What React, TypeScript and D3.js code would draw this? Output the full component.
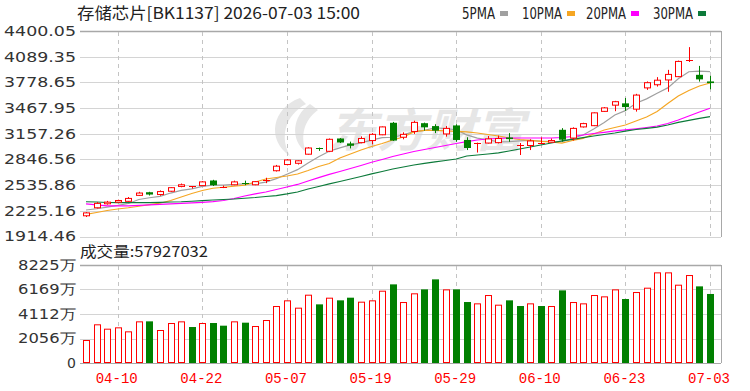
import React from 'react';
import * as d3 from 'd3';

// 存储芯片 BK1137 daily k-line + volume, 60 sessions

const dates = [
  '04-07', '04-08', '04-09', '04-10', '04-13', '04-14', '04-15', '04-16', '04-17', '04-20',
  '04-21', '04-22', '04-23', '04-24', '04-27', '04-28', '04-29', '04-30', '05-06', '05-07',
  '05-08', '05-11', '05-12', '05-13', '05-14', '05-15', '05-18', '05-19', '05-20', '05-21',
  '05-22', '05-25', '05-26', '05-27', '05-28', '05-29', '06-01', '06-02', '06-03', '06-04',
  '06-05', '06-08', '06-09', '06-10', '06-11', '06-12', '06-15', '06-16', '06-17', '06-18',
  '06-22', '06-23', '06-24', '06-25', '06-26', '06-29', '06-30', '07-01', '07-02', '07-03'
];

const open = [
  2165, 2262, 2310, 2330, 2340, 2412, 2450, 2422, 2462, 2520,
  2522, 2530, 2592, 2515, 2540, 2565, 2540, 2585, 2710, 2785,
  2800, 2910, 2985, 2945, 3100, 3040, 3050, 3075, 3145, 3290,
  3115, 3185, 3285, 3250, 3155, 3258, 3082, 3030, 3045, 3050,
  3112, 3025, 3015, 3050, 3055, 3205, 3105, 3240, 3255, 3428,
  3503, 3525, 3455, 3712, 3750, 3808, 3848, 4030, 3870, 3790
];
const high = [
  2210, 2330, 2345, 2360, 2392, 2455, 2455, 2472, 2510, 2555,
  2525, 2585, 2600, 2530, 2590, 2590, 2585, 2625, 2780, 2850,
  2835, 2995, 2990, 3100, 3105, 3062, 3125, 3165, 3245, 3300,
  3175, 3315, 3292, 3272, 3250, 3272, 3115, 3050, 3130, 3135,
  3165, 3045, 3090, 3112, 3100, 3225, 3235, 3290, 3415, 3480,
  3555, 3590, 3640, 3790, 3842, 3930, 4042, 4205, 3978, 3858
];
const low = [
  2150, 2255, 2300, 2322, 2335, 2405, 2410, 2408, 2455, 2510,
  2495, 2525, 2525, 2500, 2535, 2535, 2535, 2560, 2700, 2775,
  2785, 2905, 2950, 2935, 3045, 2980, 3042, 3030, 3140, 3070,
  3090, 3155, 3195, 3165, 3122, 3060, 2960, 2930, 3040, 3040,
  3060, 2900, 2960, 3035, 3050, 3062, 3075, 3232, 3250, 3422,
  3430, 3435, 3425, 3688, 3728, 3665, 3842, 4025, 3788, 3695
];
const close = [
  2200, 2315, 2330, 2350, 2375, 2440, 2422, 2458, 2505, 2540,
  2522, 2575, 2535, 2515, 2575, 2550, 2578, 2600, 2765, 2840,
  2830, 2985, 2978, 3090, 3052, 3012, 3100, 3150, 3240, 3075,
  3150, 3295, 3235, 3195, 3222, 3082, 2985, 3040, 3095, 3100,
  3092, 3025, 3070, 3050, 3075, 3085, 3222, 3280, 3410, 3470,
  3545, 3480, 3625, 3775, 3805, 3875, 4032, 4048, 3815, 3770
];
// 成交量, 万
const volume = [
  1930, 3247, 2880, 2993, 2657, 3496, 3496, 2769, 3356, 3496,
  3020, 3356, 3356, 3132, 3496, 3384, 3104, 3608, 4782, 5259,
  4643, 5733, 4922, 5482, 5259, 5482, 5146, 5259, 6068, 6600,
  5118, 5848, 6180, 7020, 6180, 6180, 5118, 5006, 5705, 4894,
  5259, 4782, 5006, 4782, 4782, 6096, 5118, 5006, 5705, 5593,
  6180, 5370, 5957, 6320, 7607, 7607, 6572, 7383, 6432, 5793
];
const lastVolume = '57927032';

const ma5 = [
  2235, 2250, 2270, 2290, 2314, 2362, 2383, 2400, 2440, 2473,
  2490, 2520, 2535, 2537, 2544, 2550, 2551, 2572, 2614, 2667,
  2723, 2804, 2880, 2945, 2987, 3023, 3046, 3081, 3111, 3115,
  3143, 3182, 3199, 3230, 3219, 3206, 3144, 3105, 3085, 3060,
  3062, 3070, 3076, 3067, 3062, 3061, 3100, 3142, 3214, 3293,
  3385, 3437, 3526, 3579, 3646, 3712, 3822, 3907, 3915, 3908
];
const ma10 = [
  2181, 2205, 2229, 2247, 2262, 2280, 2299, 2317, 2350, 2392,
  2435, 2471, 2498, 2510, 2522, 2535, 2574, 2610, 2628, 2646,
  2670, 2713, 2761, 2797, 2864, 2912, 2961, 3003, 3039, 3082,
  3118, 3179, 3197, 3199, 3193, 3187, 3179, 3166, 3148, 3130,
  3106, 3088, 3076, 3066, 3060, 3045, 3076, 3102, 3154, 3203,
  3233, 3263, 3312, 3360, 3427, 3523, 3614, 3680, 3735, 3771
];
const ma20 = [
  2308, 2296, 2286, 2284, 2286, 2292, 2296, 2302, 2308, 2316,
  2322, 2328, 2336, 2350, 2374, 2404, 2429, 2453, 2483, 2513,
  2544, 2586, 2626, 2665, 2701, 2737, 2773, 2812, 2846, 2882,
  2912, 2943, 2967, 2991, 3015, 3039, 3063, 3082, 3094, 3102,
  3106, 3106, 3106, 3106, 3106, 3112, 3124, 3142, 3160, 3175,
  3191, 3203, 3217, 3233, 3251, 3281, 3324, 3372, 3420, 3465
];
const ma30 = [
  2335, 2332, 2326, 2323, 2323, 2323, 2324, 2328, 2332, 2335,
  2341, 2349, 2356, 2362, 2368, 2377, 2386, 2398, 2410, 2429,
  2453, 2489, 2519, 2550, 2580, 2610, 2640, 2671, 2701, 2731,
  2755, 2779, 2798, 2816, 2834, 2852, 2888, 2900, 2912, 2925,
  2949, 2973, 2997, 3021, 3045, 3070, 3090, 3110, 3130, 3148,
  3166, 3188, 3209, 3223, 3237, 3263, 3294, 3318, 3344, 3364
];

const priceTicks = [4400.05, 4089.35, 3778.65, 3467.95, 3157.26, 2846.56, 2535.86, 2225.16, 1914.46];
const volTicks = [8225, 6169, 4112, 2056, 0];
const xTickLabels = ['04-10', '04-22', '05-07', '05-19', '05-29', '06-10', '06-23', '07-03'];

const maSeries = [
  { name: '5PMA', values: ma5, color: '#a0a0a0' },
  { name: '10PMA', values: ma10, color: '#f5a623' },
  { name: '20PMA', values: ma20, color: '#ff00ff' },
  { name: '30PMA', values: ma30, color: '#0c7a3a' }
];

const RED = '#ff0000';
const GREEN = '#008000';
const GRID = '#d4d4d4';
const BORDER = '#a8a8a8';
const LABEL = '#333333';

export default function App() {
  const width = 750;
  const height = 391;
  const left = 80;
  const right = 721;

  const idx = d3.range(dates.length);
  const x = d3.scalePoint<number>().domain(idx).range([86, 710]);
  const yP = d3.scaleLinear().domain([1914.46, 4400.05]).range([236.5, 31]);
  const yV = d3.scaleLinear().domain([0, 8225]).range([363, 265]);

  const line = (vals: number[]) =>
    d3.line<number>()
      .x((_, i) => x(i) as number)
      .y((d) => yP(d))(vals) || '';

  // up/down; a doji follows the previous close for the volume colour
  const isUp = (i: number) => close[i] > open[i];
  const volUp = (i: number) =>
    close[i] !== open[i] ? close[i] > open[i] : i === 0 || close[i] >= close[i - 1];

  const tickIdx = xTickLabels.map((d) => dates.indexOf(d));
  const font = '"DejaVu Sans", Verdana, sans-serif';
  const cjk = '"Noto Sans CJK SC", sans-serif';

  return (
    <svg width={width} height={height} style={{ position: 'absolute', left: 0, top: 0, background: '#fff' }}>
      <rect width={width} height={height} fill="#fff" />

      {/* watermark */}
      <g fill="#e6e6e6">
        <path d="M300,98 C272,108 266,140 290,156 C280,138 284,116 306,104 Z" />
        <path d="M310,104 C292,116 290,140 306,152 C300,136 304,120 318,110 Z" />
        <text x={328} y={147} fontSize={46} fontWeight="bold" fontStyle="italic"
          fontFamily={cjk} textLength={196} lengthAdjust="spacingAndGlyphs">东方财富</text>
      </g>

      {/* title + legend */}
      <text x={77} y={19} fontSize={16} fill="#222" fontFamily={cjk}
        textLength={283} lengthAdjust="spacingAndGlyphs">存储芯片[BK1137] 2026-07-03 15:00</text>
      {maSeries.map((m, k) => {
        const tx = [462, 522, 586, 653][k];
        const tw = [33, 40, 40, 40][k];
        return (
          <g key={m.name}>
            <text x={tx} y={19} fontSize={15} fill="#222"
              fontFamily='"Liberation Sans Narrow", "DejaVu Sans Condensed", sans-serif'
              textLength={tw} lengthAdjust="spacingAndGlyphs">{m.name}</text>
            <rect x={tx + tw + 5} y={11} width={8} height={5} fill={m.color} />
          </g>
        );
      })}

      {/* price grid */}
      {priceTicks.map((t, k) => (
        <g key={'p' + k}>
          <line x1={left} x2={right} y1={Math.round(yP(t)) + 0.5} y2={Math.round(yP(t)) + 0.5}
            stroke={k === 0 ? BORDER : GRID} strokeWidth={k === 0 ? 1.5 : 1} />
          <text x={76} y={yP(t)} dy="0.35em" textAnchor="end" fontSize={14} fill={LABEL}
            fontFamily={font} textLength={72} lengthAdjust="spacingAndGlyphs">{t.toFixed(2)}</text>
        </g>
      ))}
      {tickIdx.map((i) => (
        <line key={'vx' + i} x1={Math.round(x(i) as number) + 0.5} x2={Math.round(x(i) as number) + 0.5}
          y1={32} y2={236} stroke="#c4c4c4" strokeDasharray="4,4" />
      ))}
      <line x1={right + 0.5} x2={right + 0.5} y1={31} y2={237} stroke={BORDER} />

      {/* moving averages */}
      {maSeries.map((m) => (
        <path key={m.name} d={line(m.values)} fill="none" stroke={m.color} strokeWidth={1.2} />
      ))}

      {/* candles */}
      {idx.map((i) => {
        const cx = Math.round(x(i) as number);
        const up = isUp(i);
        const col = up || close[i] === open[i] ? RED : GREEN;
        const yo = yP(open[i]);
        const yc = yP(close[i]);
        const top = Math.min(yo, yc);
        const h = Math.abs(yo - yc);
        return (
          <g key={'c' + i}>
            <line x1={cx + 0.5} x2={cx + 0.5} y1={yP(high[i])} y2={yP(low[i])} stroke={col} />
            {h < 1.5 ? (
              <line x1={cx - 3} x2={cx + 4} y1={Math.round(top) + 0.5} y2={Math.round(top) + 0.5} stroke={col} />
            ) : up ? (
              <rect x={cx - 2.5} y={top} width={6} height={h} fill="#fff" stroke={col} />
            ) : (
              <rect x={cx - 3} y={top} width={7} height={h} fill={col} />
            )}
          </g>
        );
      })}

      {/* volume panel */}
      <text x={80} y={252} dy="0.35em" fontSize={15} fill="#222" fontFamily={cjk}
        textLength={128} lengthAdjust="spacingAndGlyphs">成交量:{lastVolume}</text>
      {volTicks.map((t, k) => (
        <g key={'v' + k}>
          <line x1={left} x2={right} y1={Math.round(yV(t)) + 0.5} y2={Math.round(yV(t)) + 0.5}
            stroke={k === 0 || t === 0 ? BORDER : GRID} strokeWidth={k === 0 ? 1.5 : 1} />
          <text x={76} y={yV(t)} dy="0.35em" textAnchor="end" fontSize={14} fill={LABEL}
            fontFamily={font} textLength={t === 0 ? undefined : 58}
            lengthAdjust="spacingAndGlyphs">{t === 0 ? '0' : t + '万'}</text>
        </g>
      ))}
      {tickIdx.map((i) => (
        <line key={'vv' + i} x1={Math.round(x(i) as number) + 0.5} x2={Math.round(x(i) as number) + 0.5}
          y1={266} y2={362} stroke="#c4c4c4" strokeDasharray="4,4" />
      ))}
      <line x1={right + 0.5} x2={right + 0.5} y1={265} y2={363} stroke={BORDER} />
      {idx.map((i) => {
        const cx = Math.round(x(i) as number);
        const top = yV(volume[i]);
        const h = yV(0) - top;
        return volUp(i) ? (
          <rect key={'v' + i} x={cx - 2.5} y={top + 0.5} width={6} height={h - 1} fill="#fff" stroke={RED} />
        ) : (
          <rect key={'v' + i} x={cx - 3} y={top} width={7} height={h} fill={GREEN} />
        );
      })}

      {/* x labels */}
      {tickIdx.map((i, k) => (
        <text key={'xl' + k} x={(x(i) as number) - 1} y={378} dy="0.35em" textAnchor="middle" fontSize={14}
          fill={RED} fontFamily='"Liberation Mono", monospace'>{xTickLabels[k]}</text>
      ))}
    </svg>
  );
}
